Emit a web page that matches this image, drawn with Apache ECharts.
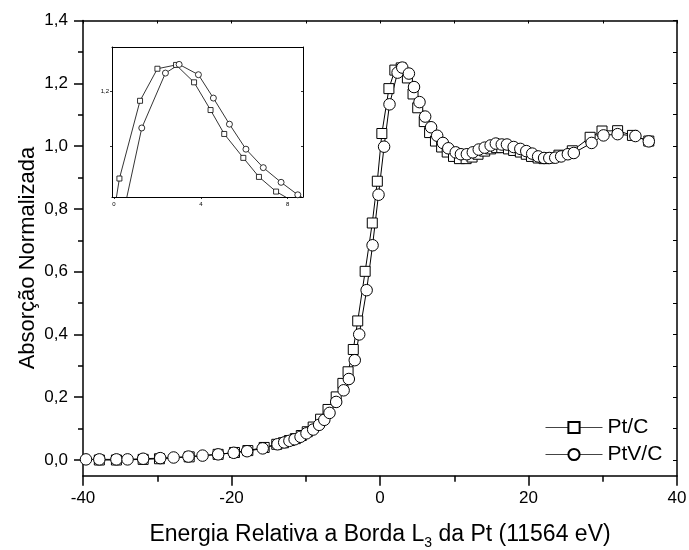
<!DOCTYPE html>
<html><head><meta charset="utf-8">
<script src="https://cdn.jsdelivr.net/npm/echarts@6/dist/echarts.min.js"></script>
<style>html,body{margin:0;padding:0;background:#fff}#c{width:689px;height:550px}</style>
</head><body><div id="c"></div>
<script>
// Pt/C (squares)
const ptcX = [-37.8, -35.5, -31.9, -29.7, -25.7, -21.8, -19.6, -17.8, -15.6, -13.9, -13.0, -12.2, -11.4, -10.6, -9.8, -9.0, -8.0, -7.0, -5.9, -5.0, -4.3, -3.6, -3.0, -2.0, -1.04, -0.36, 0.25, 1.2, 2.0, 2.86, 3.69, 4.45, 5.08, 5.96, 6.68, 7.47, 8.3, 9.05, 9.9, 10.7, 11.6, 12.4, 13.2, 14.1, 14.9, 15.7, 16.4, 17.3, 18.0, 18.9, 19.7, 20.4, 21.3, 22.1, 22.8, 24.1, 25.9, 28.3, 29.9, 32.0, 34.0, 36.2];
const ptcY = [0.0, 0.0, 0.002, 0.004, 0.01, 0.018, 0.024, 0.03, 0.04, 0.05, 0.055, 0.062, 0.068, 0.078, 0.09, 0.105, 0.13, 0.161, 0.201, 0.244, 0.281, 0.352, 0.443, 0.601, 0.755, 0.888, 1.04, 1.183, 1.242, 1.249, 1.217, 1.166, 1.122, 1.078, 1.043, 1.016, 0.997, 0.981, 0.967, 0.96, 0.96, 0.965, 0.974, 0.984, 0.991, 0.995, 0.995, 0.991, 0.986, 0.981, 0.974, 0.967, 0.962, 0.96, 0.962, 0.971, 0.985, 1.028, 1.048, 1.049, 1.034, 1.016];
// PtV/C (circles)
const ptvcX = [-39.6, -37.8, -35.5, -34.0, -31.9, -29.6, -27.8, -25.8, -23.9, -21.8, -19.7, -17.9, -15.8, -13.8, -12.9, -12.2, -11.5, -10.7, -9.9, -9.0, -8.2, -7.5, -6.8, -5.9, -4.9, -4.2, -3.4, -2.8, -1.8, -1.0, -0.2, 0.55, 1.28, 2.37, 3.0, 3.89, 4.58, 5.32, 6.08, 6.88, 7.7, 8.47, 9.2, 10.2, 10.9, 11.7, 12.5, 13.3, 14.1, 14.9, 15.6, 16.4, 17.1, 18.0, 18.9, 19.7, 20.5, 21.3, 22.1, 22.8, 23.6, 24.4, 25.3, 26.1, 28.5, 30.1, 32.0, 34.4, 36.2];
const ptvcY = [0.002, 0.002, 0.002, 0.002, 0.004, 0.006, 0.008, 0.011, 0.014, 0.018, 0.023, 0.028, 0.037, 0.05, 0.056, 0.061, 0.066, 0.074, 0.085, 0.097, 0.112, 0.128, 0.15, 0.185, 0.222, 0.258, 0.318, 0.4, 0.541, 0.684, 0.845, 0.998, 1.133, 1.234, 1.25, 1.231, 1.188, 1.14, 1.094, 1.06, 1.033, 1.01, 0.993, 0.98, 0.974, 0.974, 0.98, 0.989, 0.995, 1.002, 1.008, 1.005, 1.005, 0.997, 0.991, 0.984, 0.976, 0.967, 0.962, 0.962, 0.963, 0.967, 0.974, 0.978, 1.01, 1.034, 1.038, 1.032, 1.015];

const yMajorTicks = [0, 0.2, 0.4, 0.6, 0.8, 1.0, 1.2, 1.4];
const yMinorTicks = [0.1, 0.3, 0.5, 0.7, 0.9, 1.1, 1.3];
const yRightTicks = [0, 0.1, 0.2, 0.3, 0.4, 0.5, 0.6, 0.7, 0.8, 0.9, 1.0, 1.1, 1.2, 1.3, 1.4];
const insetXTicks = [0, 4, 8];
const insetYTicks = [1.1, 1.2];
const insetYLabels = [1.2];

const FONT = 'Liberation Sans, Arial, Helvetica, sans-serif';
const pairs = (xs, ys) => xs.map((x, i) => [x, ys[i]]);
const comma = v => (Math.round(v * 10) / 10).toFixed(1).replace('.', ',');
const black = '#000';

const chart = echarts.init(document.getElementById('c'), null, {renderer: 'canvas'});
const option = {
  animation: false,
  backgroundColor: '#fff',
  grid: [
    {left: 83, right: 12, top: 20.5, bottom: 74.3, show: false, containLabel: false, outerBoundsMode: 'none'},
    {left: 112, top: 47, width: 191, height: 150, show: false, containLabel: false, outerBoundsMode: 'none'}
  ],
  legend: {
    data: [{name: 'Pt/C'}, {name: 'PtV/C'}],
    orient: 'vertical',
    left: 540, top: 411,
    itemWidth: 57, itemHeight: 14, itemGap: 4,
    lineStyle: {color: '#444', width: 1},
    textStyle: {fontFamily: FONT, fontSize: 21, color: black, lineHeight: 23}
  },
  xAxis: [
    {type: 'value', gridIndex: 0, position: 'bottom', min: -40, max: 40, interval: 20,
     axisLine: {show: true, onZero: false, lineStyle: {color: black, width: 1.5}},
     axisTick: {show: true, length: 10, lineStyle: {color: black, width: 1.5}},
     minorTick: {show: true, splitNumber: 2, length: 6, lineStyle: {color: black, width: 1.5}},
     axisLabel: {fontFamily: FONT, fontSize: 17, color: black, margin: 14},
     splitLine: {show: false},
     name: 'Energia Relativa a Borda L{s|3} da Pt (11564 eV)',
     nameLocation: 'middle', nameGap: 43,
     nameTextStyle: {fontFamily: FONT, fontSize: 23, color: black,
       rich: {s: {fontFamily: FONT, fontSize: 14, color: black, padding: [17, 0, 0, 0]}}}
    },
    {type: 'value', gridIndex: 0, position: 'top', min: -40, max: 40, interval: 10,
     axisLine: {show: true, onZero: false, lineStyle: {color: black, width: 1.5}},
     axisTick: {show: true, inside: true, length: 3, lineStyle: {color: black, width: 1}},
     axisLabel: {show: false}, splitLine: {show: false}},
    {type: 'value', gridIndex: 1, position: 'bottom', min: -0.092, max: 8.71,
     axisLine: {show: true, onZero: false, lineStyle: {color: black, width: 1}},
     axisTick: {show: true, length: 2, customValues: insetXTicks, lineStyle: {color: black, width: 0.8}},
     axisLabel: {fontFamily: FONT, fontSize: 6, color: black, margin: 4, customValues: insetXTicks},
     splitLine: {show: false}},
    {type: 'value', gridIndex: 1, position: 'top', min: -0.092, max: 8.71,
     axisLine: {show: true, onZero: false, lineStyle: {color: black, width: 1}},
     axisTick: {show: false}, axisLabel: {show: false}, splitLine: {show: false}}
  ],
  yAxis: [
    {type: 'value', gridIndex: 0, position: 'left', min: -0.05, max: 1.4,
     axisLine: {show: true, onZero: false, lineStyle: {color: black, width: 1.5}},
     axisTick: {show: true, length: 9, customValues: yMajorTicks, lineStyle: {color: black, width: 1.5}},
     axisLabel: {fontFamily: FONT, fontSize: 17, color: black, margin: 15, customValues: yMajorTicks, formatter: comma},
     splitLine: {show: false},
     name: 'Absorção Normalizada', nameLocation: 'middle', nameGap: 44, nameRotate: 90,
     nameMoveOverlap: false,
     nameTextStyle: {fontFamily: FONT, fontSize: 22, color: black, padding: [0, 20, 0, 0]}},
    {type: 'value', gridIndex: 0, position: 'left', min: -0.05, max: 1.4,
     axisLine: {show: false, onZero: false},
     axisTick: {show: true, length: 5, customValues: yMinorTicks, lineStyle: {color: black, width: 1.5}},
     axisLabel: {show: false}, splitLine: {show: false}},
    {type: 'value', gridIndex: 0, position: 'right', min: -0.05, max: 1.4,
     axisLine: {show: true, onZero: false, lineStyle: {color: black, width: 1.5}},
     axisTick: {show: true, inside: true, length: 4, customValues: yRightTicks, lineStyle: {color: black, width: 1}},
     axisLabel: {show: false}, splitLine: {show: false}},
    {type: 'value', gridIndex: 1, position: 'left', min: 1.006, max: 1.282,
     axisLine: {show: true, onZero: false, lineStyle: {color: black, width: 1}},
     axisTick: {show: true, length: 2, customValues: insetYTicks, lineStyle: {color: black, width: 0.8}},
     axisLabel: {fontFamily: FONT, fontSize: 6, color: black, margin: 3, customValues: insetYLabels, formatter: comma},
     splitLine: {show: false}},
    {type: 'value', gridIndex: 1, position: 'right', min: 1.006, max: 1.282,
     axisLine: {show: true, onZero: false, lineStyle: {color: black, width: 1}},
     axisTick: {show: true, inside: true, length: 2, customValues: insetYTicks, lineStyle: {color: black, width: 0.8}},
     axisLabel: {show: false}, splitLine: {show: false}}
  ],
  series: [
    {name: 'Pt/C', type: 'line', xAxisIndex: 0, yAxisIndex: 0, data: pairs(ptcX, ptcY),
     symbol: 'rect', symbolSize: 10, showAllSymbol: true,
     lineStyle: {color: black, width: 1}, itemStyle: {color: '#fff', borderColor: black, borderWidth: 1}},
    {name: 'PtV/C', type: 'line', xAxisIndex: 0, yAxisIndex: 0, data: pairs(ptvcX, ptvcY),
     symbol: 'circle', symbolSize: 11.5, showAllSymbol: true,
     lineStyle: {color: black, width: 1}, itemStyle: {color: '#fff', borderColor: black, borderWidth: 1}},
    {name: 'Pt/C inset', type: 'line', xAxisIndex: 2, yAxisIndex: 3, data: pairs(ptcX, ptcY), clip: true,
     symbol: 'rect', symbolSize: 5, showAllSymbol: true,
     lineStyle: {color: black, width: 0.8}, itemStyle: {color: '#fff', borderColor: black, borderWidth: 0.8}},
    {name: 'PtV/C inset', type: 'line', xAxisIndex: 2, yAxisIndex: 3, data: pairs(ptvcX, ptvcY), clip: true,
     symbol: 'circle', symbolSize: 6, showAllSymbol: true,
     lineStyle: {color: black, width: 0.8}, itemStyle: {color: '#fff', borderColor: black, borderWidth: 0.8}}
  ]
};
chart.setOption(option);
</script>
</body></html>
